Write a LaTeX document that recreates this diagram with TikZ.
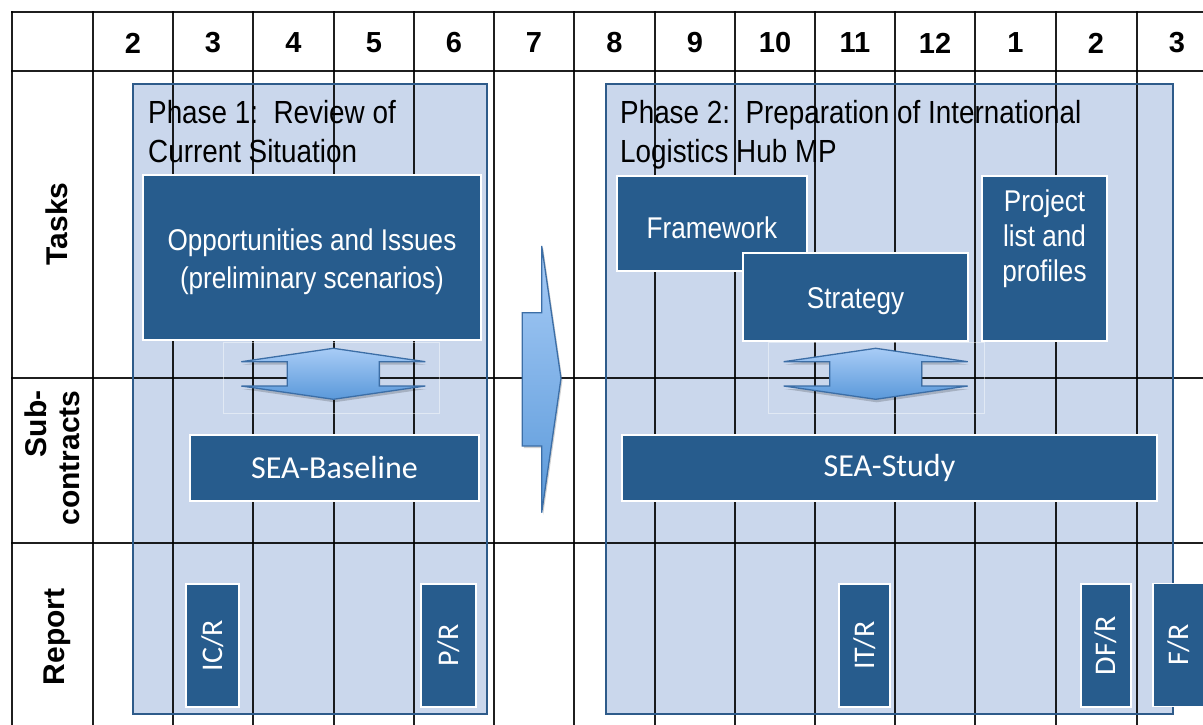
\documentclass[tikz,border=0pt]{standalone}
\usepackage{fontspec}
\setmainfont{Liberation Sans}
\newfontfamily\narrowfont[FakeStretch=0.87]{Liberation Sans}
\newfontfamily\calfont{Carlito}
\definecolor{darkbox}{HTML}{275C8D}
\definecolor{phasefill}{HTML}{CAD7EC}
\definecolor{phaseline}{HTML}{2E5B8A}
\definecolor{arrtop}{HTML}{A8CCF6}
\definecolor{arrbot}{HTML}{5A99DA}
\definecolor{arrline}{HTML}{3C6EA6}
\begin{document}
\begin{tikzpicture}[x=1pt,y=-1pt,
  gridline/.style={line width=2pt, black, opacity=0.88, line cap=rect},
  phasefillbox/.style={fill=phasefill, draw=none, inner sep=0pt},
  phaseborder/.style={draw=phaseline, line width=2.2pt},
  taskbox/.style={fill=darkbox, draw=white, line width=1.3pt, inner sep=0pt, text=white,
     font=\narrowfont\fontsize{30}{38}\selectfont, align=center},
  subbox/.style={fill=darkbox, draw=white, line width=1.3pt, inner sep=0pt, text=white,
     font=\calfont\fontsize{32}{38}\selectfont},
  repbox/.style={fill=darkbox, draw=white, line width=1.3pt, inner sep=0pt, text=white,
     minimum height=123pt},
  reptext/.style={text=white, rotate=90, font=\calfont\fontsize{30}{36}\selectfont, inner sep=0pt},
  hdr/.style={font=\bfseries\fontsize{29}{34}\selectfont, inner sep=0pt},
  rowlab/.style={font=\bfseries\fontsize{30}{33}\selectfont, rotate=90, inner sep=0pt},
  phasetitle/.style={font=\narrowfont\fontsize{32}{38}\selectfont, anchor=base west, inner sep=0pt},
  boxtext/.style={text=white, font=\narrowfont\fontsize{30}{35}\selectfont, align=center, inner sep=0pt},
  arrowshape/.style={top color=arrtop, bottom color=arrbot, draw=arrline, line width=1.3pt, line join=miter},
  arrowshadow/.style={fill=black, opacity=0.18, draw=none},
  faintbox/.style={draw=white, opacity=0.45, line width=0.6pt}
]
\useasboundingbox (0,0) rectangle (1203,725);
\fill[white] (0,0) rectangle (1203,725);

% phase backgrounds
\node[phasefillbox, minimum width=354pt, minimum height=630pt] (phase1) at (310,399) {};
\node[phasefillbox, minimum width=567pt, minimum height=630pt] (phase2) at (889.5,399) {};

% grid
\foreach \x in {12,93,173,253,334,414,494,574,655,735,815,895,975,1056,1137}
  \draw[gridline] (\x,12) -- (\x,725);
\foreach \y in {12,71,378,543}
  \draw[gridline] (12,\y) -- (1203,\y);

% phase borders
\draw[phaseborder] (phase1.north west) rectangle (phase1.south east);
\draw[phaseborder] (phase2.north west) rectangle (phase2.south east);

% header numbers
\foreach \x/\t [count=\i] in {133/2,213/3,293.5/4,374/5,454/6,534/7,614.5/8,695/9,775/10,855/11,935/12,1015.5/1,1096/2,1177/3}
  \node[hdr] (h\i) at (\x,43) {\t};

% row labels
\node[rowlab] (tasks) at (57,224) {Tasks};
\node[rowlab, align=right] (subc) at (52,458) {Sub-\\contracts};
\node[rowlab] (report) at (57,637) {Report};

% phase titles
\node[phasetitle] (p1a) at (148,124) {Phase 1:\ \ Review of};
\node[phasetitle] (p1b) at (148,162) {Current Situation};
\node[phasetitle] (p2a) at (620,124) {Phase 2:\ \ Preparation of International};
\node[phasetitle] (p2b) at (620,162) {Logistics Hub MP};

% task boxes
\node[taskbox, minimum width=338pt, minimum height=165pt] (opp) at (312,257.5) {};
\node[boxtext] (opptext) at (312,262) {Opportunities and Issues\\[3pt](preliminary scenarios)};
\node[taskbox, minimum width=190pt, minimum height=95pt] (frame) at (712,223.5) {};
\node[boxtext] (frametext) at (712,228) {Framework};
\node[taskbox, minimum width=225pt, minimum height=88pt] (strat) at (855.5,297) {};
\node[boxtext] (strattext) at (855.5,301) {Strategy};
\node[taskbox, minimum width=125pt, minimum height=165pt] (projbox) at (1044.5,258.5) {};
\node[boxtext] (proj) at (1044.5,239) {Project\\list and\\profiles};

% faint frames around double arrows
\draw[faintbox] (223,342) rectangle (439,413);
\draw[faintbox] (768,342) rectangle (984,413);

% double arrows (shadow + shape)
\foreach \cx in {333.3, 875.7}{
  \fill[arrowshadow, xshift=1pt, yshift=-3pt]
    (\cx,348.3) -- (\cx+92,361.7) -- (\cx+46,361.7) -- (\cx+46,386) -- (\cx+92,386)
    -- (\cx,399.3) -- (\cx-92,386) -- (\cx-46,386) -- (\cx-46,361.7) -- (\cx-92,361.7) -- cycle;
  \draw[arrowshape]
    (\cx,348.3) -- (\cx+92,361.7) -- (\cx+46,361.7) -- (\cx+46,386) -- (\cx+92,386)
    -- (\cx,399.3) -- (\cx-92,386) -- (\cx-46,386) -- (\cx-46,361.7) -- (\cx-92,361.7) -- cycle;
}

% big transition arrow
\fill[arrowshadow, xshift=1.5pt, yshift=-2pt]
  (541.7,246) -- (541.7,312.7) -- (522.3,312.7) -- (522.3,446) -- (541.7,446)
  -- (541.7,512.7) -- (561,378.3) -- cycle;
\draw[arrowshape]
  (541.7,246) -- (541.7,312.7) -- (522.3,312.7) -- (522.3,446) -- (541.7,446)
  -- (541.7,512.7) -- (561,378.3) -- cycle;

% subcontract boxes
\node[subbox, minimum width=289pt, minimum height=66pt] (seab) at (334.5,468) {SEA-Baseline};
\node[subbox, minimum width=535pt, minimum height=66pt] (seas) at (889.5,468) {SEA-Study};

% report boxes
\node[repbox, minimum width=53pt] (icr) at (212.5,645.5) {};
\node[reptext] (icrt) at (icr.center) {IC/R};
\node[repbox, minimum width=55pt] (pr) at (448.5,645.5) {};
\node[reptext] (prt) at (pr.center) {P/R};
\node[repbox, minimum width=51pt] (itr) at (864.5,645.5) {};
\node[reptext] (itrt) at (itr.center) {IT/R};
\node[repbox, minimum width=50pt] (dfr) at (1106,645.5) {};
\node[reptext] (dfrt) at (dfr.center) {DF/R};
\node[repbox, minimum width=52pt] (fr) at (1179,645) {};
\node[reptext] (frt) at (fr.center) {F/R};
\end{tikzpicture}
\end{document}
